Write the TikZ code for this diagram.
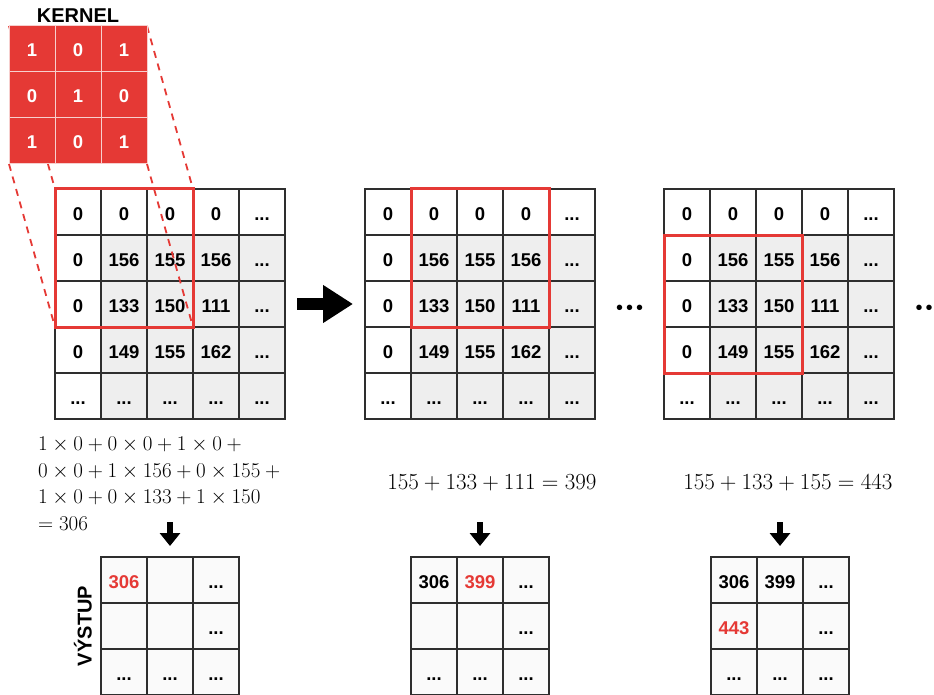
\documentclass[tikz,border=0pt]{standalone}
\usepackage{fix-cm}
\usepackage[no-math]{fontspec}
\setmainfont{Liberation Sans}
\usetikzlibrary{arrows.meta, positioning, calc}
\definecolor{kernelred}{HTML}{E53935}
\definecolor{kernelline}{HTML}{F7CFCE}
\definecolor{pixelgray}{HTML}{EEEEEE}
\definecolor{outgray}{HTML}{FAFAFA}
\definecolor{gridline}{HTML}{2E2E2E}
\newcommand{\dts}{...}
\newcommand{\hit}[1]{\textcolor{kernelred}{#1}}
% 5x5 input image: name, left x
\newcommand{\pixelgrid}[2]{%
  \foreach \vals [count=\row] in {{0,0,0,0,\dts},{0,156,155,156,\dts},
      {0,133,150,111,\dts},{0,149,155,162,\dts},{\dts,\dts,\dts,\dts,\dts}}
    \foreach \v [count=\col] in \vals {
      \ifnum\row>1 \ifnum\col>1 \def\shade{pixelgray}\else\def\shade{white}\fi
      \else\def\shade{white}\fi
      \node[cell, fill=\shade] (#1-\row-\col) at ({#2+46*\col-23},{189+46*\row-23}) {\v};
    }}
% 3x3 output: name, left x, rows
\newcommand{\outgrid}[3]{%
  \foreach \vals [count=\row] in {#3}
    \foreach \v [count=\col] in \vals
      \node[cell, fill=outgray] (#1-\row-\col) at ({#2+46*\col-23},{557+46*\row-23}) {\v};}
\pgfdeclarelayer{front}
\pgfsetlayers{main,front}

\begin{document}
\begin{tikzpicture}[x=1pt, y=-1pt,
    cell/.style={draw=gridline, line width=1.1pt, minimum size=46pt, inner sep=0pt,
      outer sep=0pt, text height=16pt, text depth=0pt,
      font=\bfseries\fontsize{18.5}{20}\selectfont},
    kcell/.style={draw=kernelline, fill=kernelred, line width=1pt, text=white,
      minimum size=46pt, inner sep=0pt, outer sep=0pt, text height=16pt, text depth=0pt,
      font=\bfseries\fontsize{18.5}{20}\selectfont},
    window/.style={draw=kernelred, line width=3pt},
    link/.style={draw=kernelred, line width=1.8pt, dash pattern=on 7pt off 6pt},
    title/.style={font=\bfseries\fontsize{20}{22}\selectfont, inner sep=0pt},
    sumtext/.style={font=\fontsize{21}{26.5}\selectfont, inner sep=0pt},
    sumbig/.style={font=\fontsize{23}{26}\selectfont, inner sep=0pt},
    more/.style={font=\fontsize{20}{22}\selectfont, inner sep=0pt},
    bigarrow/.style={line width=12pt, -{Triangle[length=30pt, width=36pt]}},
    downarrow/.style={line width=6pt, -{Triangle[length=13pt, width=20pt]}}
  ]
  \useasboundingbox (0,0) rectangle (934,695);

  % kernel (kept above the links)
  \begin{pgfonlayer}{front}
    \foreach \vals [count=\row] in {{1,0,1},{0,1,0},{1,0,1}}
      \foreach \v [count=\col] in \vals
        \node[kcell] (k-\row-\col) at ({9+46*\col-23},{26+46*\row-23}) {\v};
    \node[title, above=3pt of k-1-2] (kernel) {KERNEL};
  \end{pgfonlayer}

  % input image, three steps
  \pixelgrid{a}{55}
  \pixelgrid{b}{365}
  \pixelgrid{c}{664}

  \draw[link] (k-1-1.north west) -- (a-1-1.north west);
  \draw[link] (k-1-3.north east) -- (a-1-3.north east);
  \draw[link] (k-3-1.south west) -- (a-3-1.south west);
  \draw[link] (k-3-3.south east) -- (a-3-3.south east);

  \draw[window] (a-1-1.north west) rectangle (a-3-3.south east);
  \draw[window] (b-1-2.north west) rectangle (b-3-4.south east);
  \draw[window] (c-2-1.north west) rectangle (c-4-3.south east);

  \draw[bigarrow] ([xshift=12pt]a-3-5.east) -- ([xshift=-12pt]b-3-1.west);
  \node[more, yshift=-6pt] (gap1) at ($(b-3-5.east)!0.5!(c-3-1.west)$)
    {\textbullet\hspace{3pt}\textbullet\hspace{3pt}\textbullet};
  \node[more, yshift=-6pt] (gap2) at ([xshift=35pt]c-3-5.east)
    {\textbullet\hspace{3pt}\textbullet\hspace{3pt}\textbullet};

  % sums
  \node[sumtext, anchor=north west, align=left] (sum1) at (38,437)
    {$1\times0+0\times0+1\times0+{}$\\
     $0\times0+1\times156+0\times155+{}$\\
     $1\times0+0\times133+1\times150$\\
     $=306$};
  \node[sumbig, anchor=base] (sum2) at (492,489) {$155+133+111=399$};
  \node[sumbig, anchor=base] (sum3) at (788,489) {$155+133+155=443$};

  % output
  \outgrid{p}{101}{{\hit{306},,\dts},{,,\dts},{\dts,\dts,\dts}}
  \outgrid{q}{411}{{306,\hit{399},\dts},{,,\dts},{\dts,\dts,\dts}}
  \outgrid{r}{711}{{306,399,\dts},{\hit{443},,\dts},{\dts,\dts,\dts}}
  \node[title, rotate=90, anchor=south] (vystup) at ([xshift=-9pt]p-2-1.west) {VÝSTUP};

  \draw[downarrow] ([yshift=35pt]p-1-2.north) -- ([yshift=11pt]p-1-2.north);
  \draw[downarrow] ([yshift=35pt]q-1-2.north) -- ([yshift=11pt]q-1-2.north);
  \draw[downarrow] ([yshift=35pt]r-1-2.north) -- ([yshift=11pt]r-1-2.north);
\end{tikzpicture}
\end{document}
